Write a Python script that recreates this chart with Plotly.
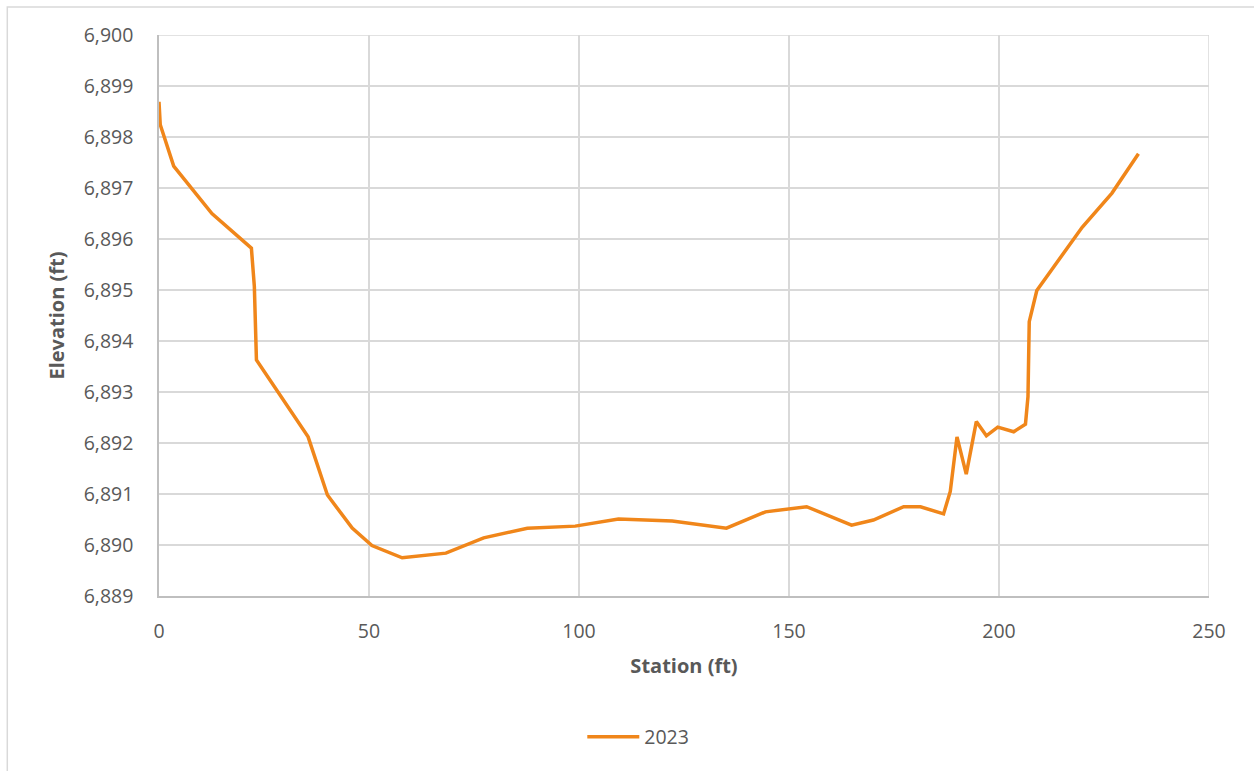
import plotly.graph_objects as go

# Cross-section survey, 2023
station_ft = [0.0, 0.3, 3.5, 12.6, 22.0, 22.7, 23.2, 35.5, 40.1, 46.0, 50.7, 57.9,
              68.3, 77.3, 87.7, 99.1, 109.4, 122.2, 135.1, 144.4, 154.2, 164.9,
              170.1, 177.3, 181.3, 186.8, 188.4, 190.0, 192.2, 194.6, 197.0, 199.7,
              203.5, 206.3, 206.9, 207.2, 209.0, 219.8, 226.9, 233.2]
elevation_ft = [6898.69, 6898.24, 6897.43, 6896.50, 6895.82, 6895.07, 6893.63,
                6892.12, 6890.98, 6890.33, 6889.99, 6889.75, 6889.84, 6890.14,
                6890.33, 6890.37, 6890.51, 6890.47, 6890.33, 6890.65, 6890.75,
                6890.39, 6890.49, 6890.75, 6890.75, 6890.61, 6891.05, 6892.12,
                6891.39, 6892.42, 6892.14, 6892.31, 6892.22, 6892.37, 6892.91,
                6894.38, 6894.99, 6896.23, 6896.90, 6897.67]
series_name = "2023"

x_range = [0, 250]
y_range = [6889, 6900]

GRID = "#d9d9d9"
TEXT = "#595959"
FONT = "Open Sans, Roboto, Arial, sans-serif"

fig = go.Figure()
fig.add_trace(go.Scatter(
    x=station_ft, y=elevation_ft, mode="lines", name=series_name,
    line=dict(color="#F0861A", width=3.5),
))

W, H = 1254, 771
L, R, T, B = 158.7, 45.3, 35, 175
pw, ph = W - L - R, H - T - B


def px_to_paper_x(px):
    return (px - L) / pw


def px_to_paper_y(py):
    return (H - B - py) / ph


fig.update_layout(
    width=W, height=H,
    margin=dict(l=L, r=R, t=T, b=B, pad=0),
    paper_bgcolor="white", plot_bgcolor="white",
    font=dict(family=FONT, color=TEXT, size=19),
    showlegend=True,
    legend=dict(
        orientation="h", x=px_to_paper_x(638), xanchor="center",
        y=px_to_paper_y(737), yanchor="middle", itemwidth=52,
        font=dict(size=19.5, color=TEXT), bgcolor="rgba(0,0,0,0)",
    ),
    shapes=[dict(
        type="rect", xref="paper", yref="paper",
        x0=px_to_paper_x(7), x1=px_to_paper_x(1262),
        y0=px_to_paper_y(780), y1=px_to_paper_y(7),
        line=dict(color=GRID, width=1.5), layer="below",
    )],
)

fig.update_xaxes(
    range=x_range, dtick=50, tick0=0,
    showgrid=True, gridcolor=GRID, gridwidth=1.5,
    showline=True, linecolor="#bfbfbf", linewidth=1.5, mirror=False,
    zeroline=False, ticks="", ticklabelstandoff=17,
    tickfont=dict(size=19.5, color=TEXT),
    title=dict(text="<b>Station (ft)</b>", font=dict(size=20, color=TEXT), standoff=16),
)
fig.update_yaxes(
    range=y_range, dtick=1, tick0=6889, tickformat=",d",
    showgrid=True, gridcolor=GRID, gridwidth=1.5,
    showline=True, linecolor="#bfbfbf", linewidth=1.5,
    zeroline=False, ticks="", ticklabelstandoff=20,
    tickfont=dict(size=19.5, color=TEXT),
    title=dict(text="<b>Elevation (ft)</b>", font=dict(size=20, color=TEXT), standoff=14),
)
# right and top edges of the plot area are drawn by the outermost grid lines
fig.add_shape(type="line", xref="x", yref="paper", x0=250, x1=250, y0=0, y1=1,
              line=dict(color=GRID, width=1.5), layer="below")
fig.add_shape(type="line", xref="paper", yref="y", x0=0, x1=1, y0=6900, y1=6900,
              line=dict(color=GRID, width=1.5), layer="below")

fig.write_html("out.html")
